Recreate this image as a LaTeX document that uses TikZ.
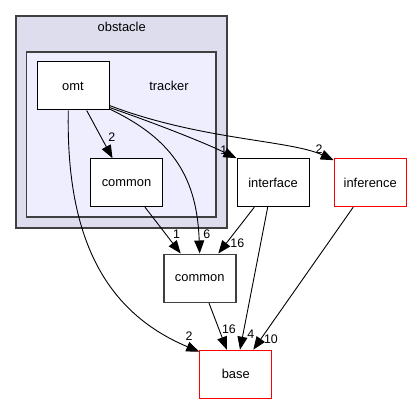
\documentclass[tikz,border=0pt]{standalone}
\usepackage{fontspec}
\setmainfont{Liberation Sans}
\usetikzlibrary{arrows.meta}
\definecolor{clouter}{HTML}{DDDDEE}
\definecolor{clinner}{HTML}{EEEEFF}
\definecolor{clborder}{HTML}{404040}
\definecolor{nodered}{HTML}{FF0000}
\begin{document}
\begin{tikzpicture}[x=1pt,y=-1pt,
  dirbox/.style={draw=black,fill=white,line width=1pt,minimum width=72pt,minimum height=48pt,inner sep=0pt,font=\fontsize{12.9}{15}\selectfont},
  redbox/.style={dirbox,draw=nodered},
  graybox/.style={dirbox,draw=clborder,line width=1.6pt},
  edge/.style={draw=black,line width=0.9pt,-{Triangle[length=13pt,width=10pt]}},
  elabel/.style={inner sep=0pt,font=\fontsize{12.4}{14}\selectfont},
  cluster/.style={draw=clborder,line width=1.8pt},
  ctitle/.style={inner sep=0pt,font=\fontsize{12.9}{15}\selectfont}]
\useasboundingbox (0,0) rectangle (413,404);
\fill[white] (0,0) rectangle (413,404);
% clusters
\draw[cluster,fill=clouter] (15.7,15.7) rectangle (227,228);
\draw[cluster,fill=clinner] (26.5,52) rectangle (216,217);
\node[ctitle] (tobstacle) at (121.7,27) {obstacle};
\node[ctitle] (ttracker) at (169,86) {tracker};
% nodes
\node[dirbox] (omt) at (73,86) {omt};
\node[dirbox] (icommon) at (126.5,182.7) {common};
\node[dirbox] (interface) at (273,182.7) {interface};
\node[redbox] (inference) at (370.2,182.7) {inference};
\node[graybox] (lcommon) at (199.7,278.3) {common};
\node[redbox] (base) at (235.8,374.2) {base};
% edges
\draw[edge] ([xshift=13.7pt]omt.south) -- ([xshift=-14pt]icommon.north);
\draw[edge] ([yshift=1.5pt]omt.south east) .. controls (175,140) and (197,180) .. (lcommon.north);
\draw[edge] ([yshift=3pt]omt.south east) .. controls (160,125) and (205,143) .. (interface.north west);
\draw[edge] ([yshift=5pt]omt.south east) .. controls (200,140) and (290,140) .. ([yshift=-2pt]inference.north west);
\draw[edge] ([xshift=-4.7pt]omt.south) .. controls (66,230) and (100,310) .. ([yshift=-2pt]base.north west);
\draw[edge] ([xshift=18.5pt]icommon.south) -- ([xshift=-19pt]lcommon.north);
\draw[edge] ([xshift=-18.7pt]interface.south) -- ([xshift=18.6pt]lcommon.north);
\draw[edge] ([xshift=-5.3pt]interface.south) -- ([xshift=4.2pt]base.north);
\draw[edge] ([xshift=-17pt]inference.south) -- ([xshift=17.5pt]base.north);
\draw[edge] ([xshift=9.3pt]lcommon.south) -- ([xshift=-9pt]base.north);
% edge labels
\node[elabel] (la) at (111.7,137.5) {2};
\node[elabel] (lb) at (206.7,234.5) {6};
\node[elabel] (lc) at (223.8,150) {1};
\node[elabel] (ld) at (319,149) {2};
\node[elabel] (le) at (189,336) {2};
\node[elabel] (lf) at (176.5,234.5) {1};
\node[elabel] (lg) at (237.3,243.3) {16};
\node[elabel] (lh) at (250.7,334) {4};
\node[elabel] (li) at (271,339.3) {10};
\node[elabel] (lj) at (229,329.3) {16};
\end{tikzpicture}
\end{document}
